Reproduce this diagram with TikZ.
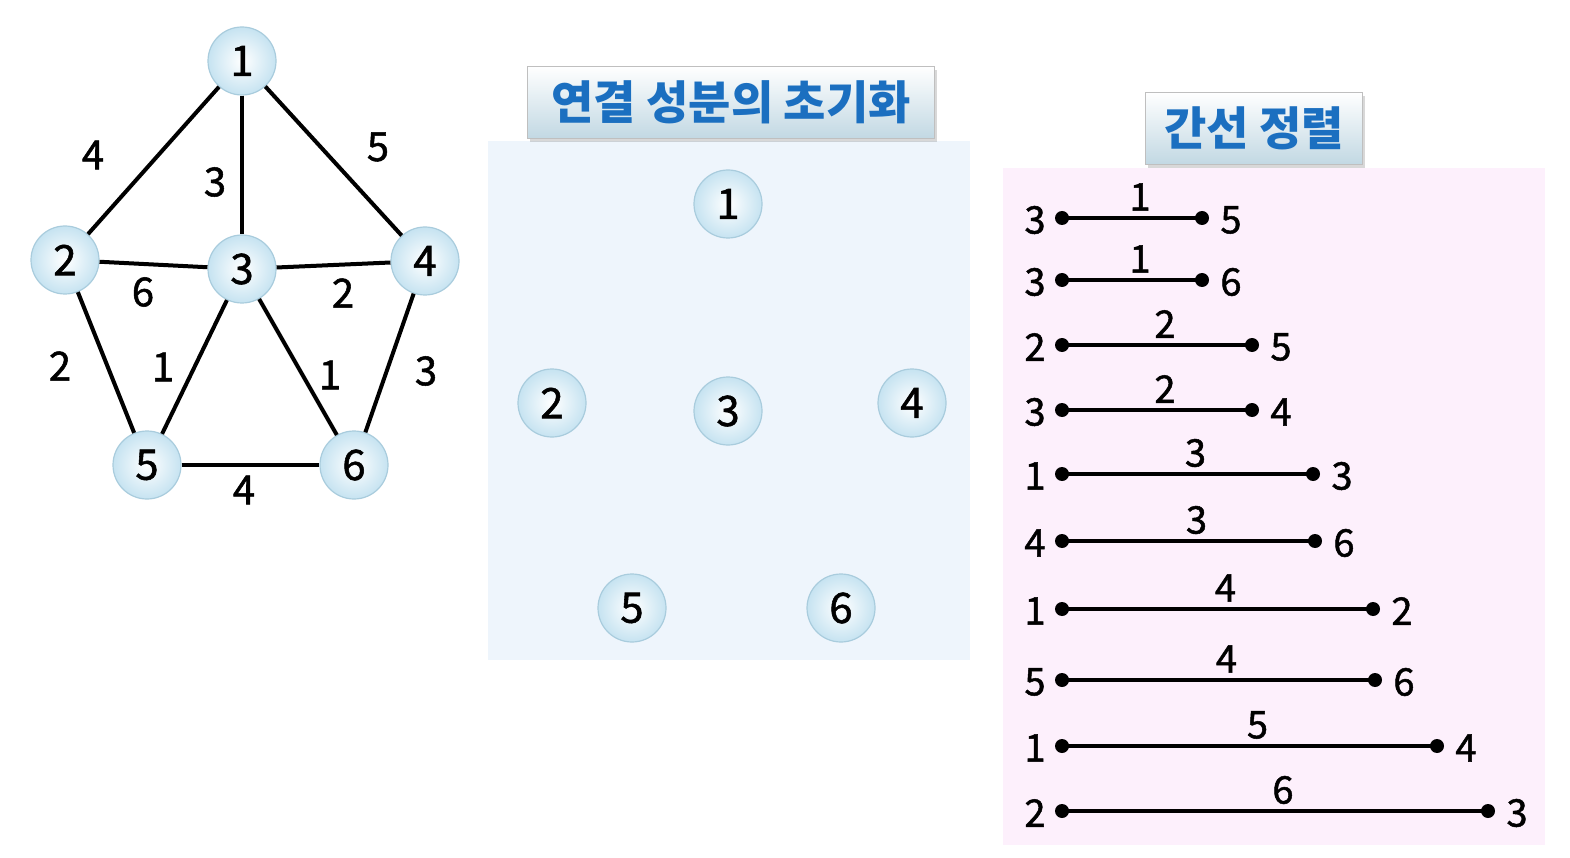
\documentclass[tikz,border=0pt]{standalone}
\usepackage{fontspec}
\setmainfont{Noto Sans CJK KR}
\newfontfamily\digfont[FakeBold=1.3]{Noto Sans CJK KR}
\usetikzlibrary{shadows}
\definecolor{titleblue}{HTML}{1B6FC0}
\definecolor{nodeedge}{HTML}{A9CCDD}
\definecolor{nodeout}{HTML}{C6E3F1}
\definecolor{panelblue}{HTML}{EEF5FC}
\definecolor{panelpink}{HTML}{FDF0FC}
\tikzset{
  vtx/.style={circle, minimum size=68pt, inner sep=0pt, draw=nodeedge, line width=1.2pt,
    inner color=white, outer color=nodeout, font=\digfont\fontsize{42}{42}\selectfont},
  gedge/.style={line width=4pt, black},
  wlabel/.style={font=\digfont\fontsize{40}{40}\selectfont, inner sep=0pt},
  titlebox/.style={draw=gray!50, line width=0.8pt, top color=white, bottom color=nodeout!85!gray!90,
    drop shadow={shadow xshift=2pt, shadow yshift=-4pt, opacity=0.3},
    font=\fontsize{46}{46}\selectfont\bfseries, text=titleblue, inner sep=0pt},
  lline/.style={line width=3.5pt, black},
  ldot/.style={circle, fill=black, inner sep=0pt, minimum size=14pt},
  llab/.style={font=\digfont\fontsize{38}{38}\selectfont, inner sep=0pt},
}
\begin{document}
\begin{tikzpicture}[x=1pt,y=-1pt]
\useasboundingbox[fill=white] (0,0) rectangle (1570,858);
% left graph
\node[vtx] (g1) at (242,61) {1};
\node[vtx] (g2) at (65,260) {2};
\node[vtx] (g3) at (242,269) {3};
\node[vtx] (g4) at (425,261) {4};
\node[vtx] (g5) at (147,465) {5};
\node[vtx] (g6) at (354,465) {6};
\draw[gedge] (g1) -- (g2);
\draw[gedge] (g1) -- (g3);
\draw[gedge] (g1) -- (g4);
\draw[gedge] (g2) -- (g3);
\draw[gedge] (g3) -- (g4);
\draw[gedge] (g2) -- (g5);
\draw[gedge] (g3) -- (g5);
\draw[gedge] (g3) -- (g6);
\draw[gedge] (g4) -- (g6);
\draw[gedge] (g5) -- (g6);
\node[wlabel] (w12) at (93,155) {4};
\node[wlabel] (w13) at (215,182) {3};
\node[wlabel] (w14) at (378,147) {5};
\node[wlabel] (w23) at (143,292) {6};
\node[wlabel] (w34) at (343,293) {2};
\node[wlabel] (w25) at (60,366) {2};
\node[wlabel] (w35) at (163,367) {1};
\node[wlabel] (w36) at (330,375) {1};
\node[wlabel] (w46) at (426,371) {3};
\node[wlabel] (w56) at (244,490) {4};
% middle panel
\fill[panelblue] (488,141) rectangle (970,660);
\node[titlebox, minimum width=407pt, minimum height=72pt] (t1) at (731,102) {연결 성분의 초기화};
\node[vtx] (m1) at (728,204) {1};
\node[vtx] (m2) at (552,403) {2};
\node[vtx] (m3) at (728,411) {3};
\node[vtx] (m4) at (912,403) {4};
\node[vtx] (m5) at (632,608) {5};
\node[vtx] (m6) at (841,608) {6};
% right panel
\fill[panelpink] (1003,168) rectangle (1545,845);
\node[titlebox, minimum width=217pt, minimum height=72pt] (t2) at (1254,128) {간선 정렬};
\foreach \i/\a/\b/\w/\y/\xr in {1/3/5/1/218/1202, 2/3/6/1/280/1202, 3/2/5/2/345/1252, 4/3/4/2/410/1252,
  5/1/3/3/474/1313, 6/4/6/3/541/1315, 7/1/2/4/609/1373, 8/5/6/4/680/1375, 9/1/4/5/746/1437, 10/2/3/6/811/1488}{
  \node[ldot] (l\i) at (1062,\y) {};
  \node[ldot] (r\i) at (\xr,\y) {};
  \draw[lline] (l\i.center) -- (r\i.center);
  \node[llab] (la\i) at (1035,\y+2) {\a};
  \node[llab] (lb\i) at (\xr+29,\y+2) {\b};
  \node[llab] (lw\i) at ({(1062+\xr)/2+8},\y-21) {\w};
}
\end{tikzpicture}
\end{document}
